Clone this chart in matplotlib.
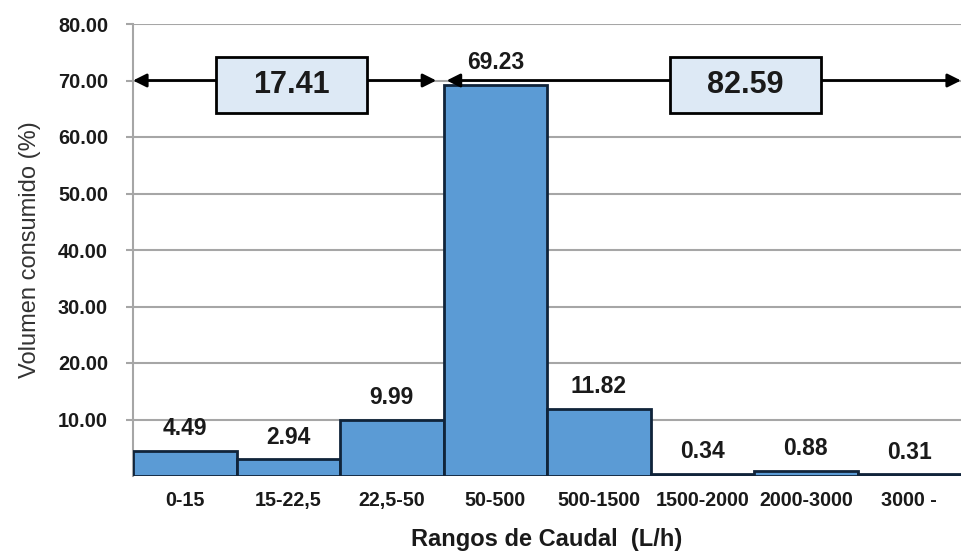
import matplotlib
import matplotlib.pyplot as plt
from matplotlib.patches import Rectangle

matplotlib.use("Agg")

# --- Data ---
rangos = ["0-15", "15-22,5", "22,5-50", "50-500", "500-1500", "1500-2000", "2000-3000", "3000 -"]
volumen = [4.49, 2.94, 9.99, 69.23, 11.82, 0.34, 0.88, 0.31]
yticks = [10, 20, 30, 40, 50, 60, 70, 80]
acumulado_izq = 17.41
acumulado_der = 82.59

# --- Style ---
bar_color = "#5b9bd5"
edge_color = "#10243a"
grid_color = "#a6a6a6"
box_color = "#dde9f5"
plt.rcParams["font.family"] = ["Liberation Sans", "DejaVu Sans"]

fig = plt.figure(figsize=(9.63, 5.56), dpi=100)
ax = fig.add_axes([133 / 963, 80 / 556, 828 / 963, 452 / 556])

x = list(range(len(rangos)))
ax.bar(x, volumen, width=1.0, color=bar_color, edgecolor=edge_color, linewidth=2, zorder=3)

for xi, v in zip(x, volumen):
    ax.annotate(f"{v:.2f}", xy=(xi, v), xytext=(0, 16), textcoords="offset points",
                ha="center", va="center", fontsize=16.5, fontweight="bold", color="#1a1a1a")

ax.set_xlim(-0.5, len(rangos) - 0.5)
ax.set_ylim(0, 80)
ax.set_yticks(yticks)
ax.set_yticklabels([f"{t:.2f}" for t in yticks])
ax.set_xticks(x)
ax.set_xticklabels(rangos)
ax.tick_params(axis="y", length=5, color=grid_color, width=1.5, pad=13, labelsize=14.3)
ax.tick_params(axis="x", length=0, pad=11, labelsize=14.2)
for lbl in ax.get_xticklabels() + ax.get_yticklabels():
    lbl.set_fontweight("bold")
    lbl.set_color("#1a1a1a")

ax.grid(axis="y", color=grid_color, linewidth=1.5, zorder=0)
for side in ["top", "right", "bottom"]:
    ax.spines[side].set_visible(False)
ax.spines["left"].set_color(grid_color)
ax.spines["left"].set_linewidth(1.5)

ax.set_ylabel("Volumen consumido (%)", fontsize=17, color="#333333", labelpad=12)
ax.set_xlabel("Rangos de Caudal  (L/h)", fontsize=17, fontweight="bold", color="#1a1a1a", labelpad=13)

# --- Cumulative arrows with boxes ---
nivel = 70
arrow_kw = dict(arrowstyle="<|-|>", color="black", lw=2, mutation_scale=20, shrinkA=0, shrinkB=0)
ax.annotate("", xy=(-0.5, nivel), xytext=(2.43, nivel), arrowprops=arrow_kw, zorder=4,
            annotation_clip=False)
ax.annotate("", xy=(2.53, nivel), xytext=(7.5, nivel), arrowprops=arrow_kw, zorder=4,
            annotation_clip=False)

box_w, box_h = 1.46, 10
for cx, val in [(1.03, acumulado_izq), (5.42, acumulado_der)]:
    ax.add_patch(Rectangle((cx - box_w / 2, nivel - 5.8), box_w, box_h, facecolor=box_color,
                           edgecolor="black", linewidth=2, zorder=5))
    ax.text(cx, nivel - 0.8, f"{val:.2f}", ha="center", va="center", fontsize=22,
            fontweight="bold", color="#1a1a1a", zorder=6)

fig.savefig("out.png", dpi=100)
plt.close()
